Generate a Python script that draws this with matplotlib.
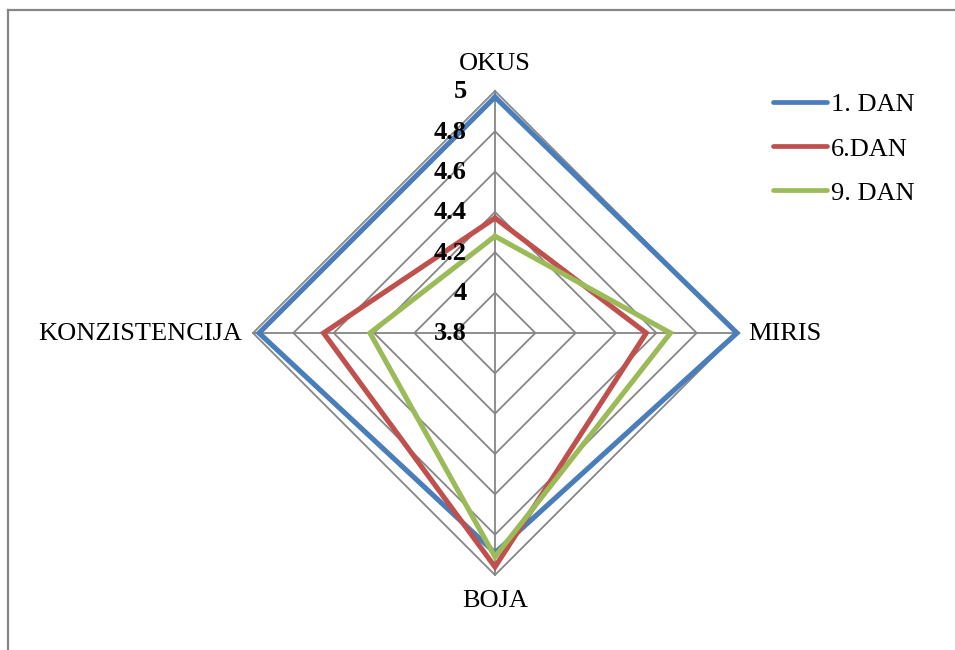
import numpy as np
import matplotlib
matplotlib.use("Agg")
import matplotlib.pyplot as plt
from matplotlib.lines import Line2D
from matplotlib.transforms import offset_copy

plt.rcParams['font.family'] = ['Liberation Serif', 'DejaVu Serif']

categories = ["OKUS", "MIRIS", "BOJA", "KONZISTENCIJA"]
series_names = ["1. DAN", "6.DAN", "9. DAN"]
dan1 = [4.97, 5.00, 4.89, 4.97]
dan6 = [4.37, 4.55, 4.96, 4.65]
dan9 = [4.28, 4.67, 4.91, 4.42]
levels = [3.8, 4.0, 4.2, 4.4, 4.6, 4.8, 5.0]
level_labels = ["3.8", "4", "4.2", "4.4", "4.6", "4.8", "5"]
colors = ["#4A7EBB", "#C0504D", "#9BBB59"]
grid_color = "#868686"

W, H = 955, 650
fig = plt.figure(figsize=(W / 100, H / 100), dpi=100)
cx, cy, R = 495, 333, 242
ax = fig.add_axes([(cx - R) / W, (H - cy - R) / H, 2 * R / W, 2 * R / H], projection='polar')
ax.set_theta_zero_location('N')
ax.set_theta_direction(-1)
ax.set_ylim(levels[0], levels[-1])
ax.grid(False)
ax.spines['polar'].set_visible(False)
ax.set_xticks([])
ax.set_yticks([])
ax.patch.set_alpha(0)

n = len(categories)
angles = np.linspace(0, 2 * np.pi, n, endpoint=False)
closed = np.concatenate([angles, angles[:1]])

# grid rings (polygons) and spokes
for lv in levels[1:]:
    ax.plot(closed, [lv] * (n + 1), color=grid_color, lw=1.3, clip_on=False, zorder=1)
for a in angles:
    ax.plot([a, a], [levels[0], levels[-1]], color=grid_color, lw=1.3, clip_on=False, zorder=1)

handles = []
for vals, c, name in zip([dan1, dan6, dan9], colors, series_names):
    v = list(vals) + [vals[0]]
    h, = ax.plot(closed, v, color=c, lw=3.7, clip_on=False, zorder=3,
                 solid_joinstyle='miter', label=name)
    handles.append(h)

# radial labels
tr = offset_copy(ax.transData, fig=fig, x=-28, y=-1, units='dots')
for lv, lab in zip(levels, level_labels):
    ax.text(0, lv, lab, transform=tr, ha='right', va='center', fontsize=19,
            fontweight='bold', clip_on=False, zorder=5)

# category labels
fs = 19
fig.text(495 / W, 1 - 64 / H, categories[0], ha='center', va='center', fontsize=fs)
fig.text(748 / W, 1 - 334 / H, categories[1], ha='left', va='center', fontsize=fs)
fig.text(495 / W, 1 - 601 / H, categories[2], ha='center', va='center', fontsize=fs)
fig.text(242 / W, 1 - 334 / H, categories[3], ha='right', va='center', fontsize=fs)

leg = fig.legend(handles=handles, loc='upper left', bbox_to_anchor=(773 / W, 1 - 93 / H),
                 frameon=False, fontsize=fs, handlelength=2.05, handletextpad=0.15,
                 labelspacing=0.78, borderaxespad=0, borderpad=0)
for line in leg.get_lines():
    line.set_linewidth(3.4)
    line.set_solid_capstyle('round')

# outer frame (top and left)
fig.add_artist(Line2D([7.5 / W, 1], [1 - 10 / H, 1 - 10 / H], color="#868686", lw=1.6,
                      transform=fig.transFigure))
fig.add_artist(Line2D([7.5 / W, 7.5 / W], [0, 1 - 10 / H], color="#868686", lw=1.6,
                      transform=fig.transFigure))

fig.savefig("out.png", dpi=100)
